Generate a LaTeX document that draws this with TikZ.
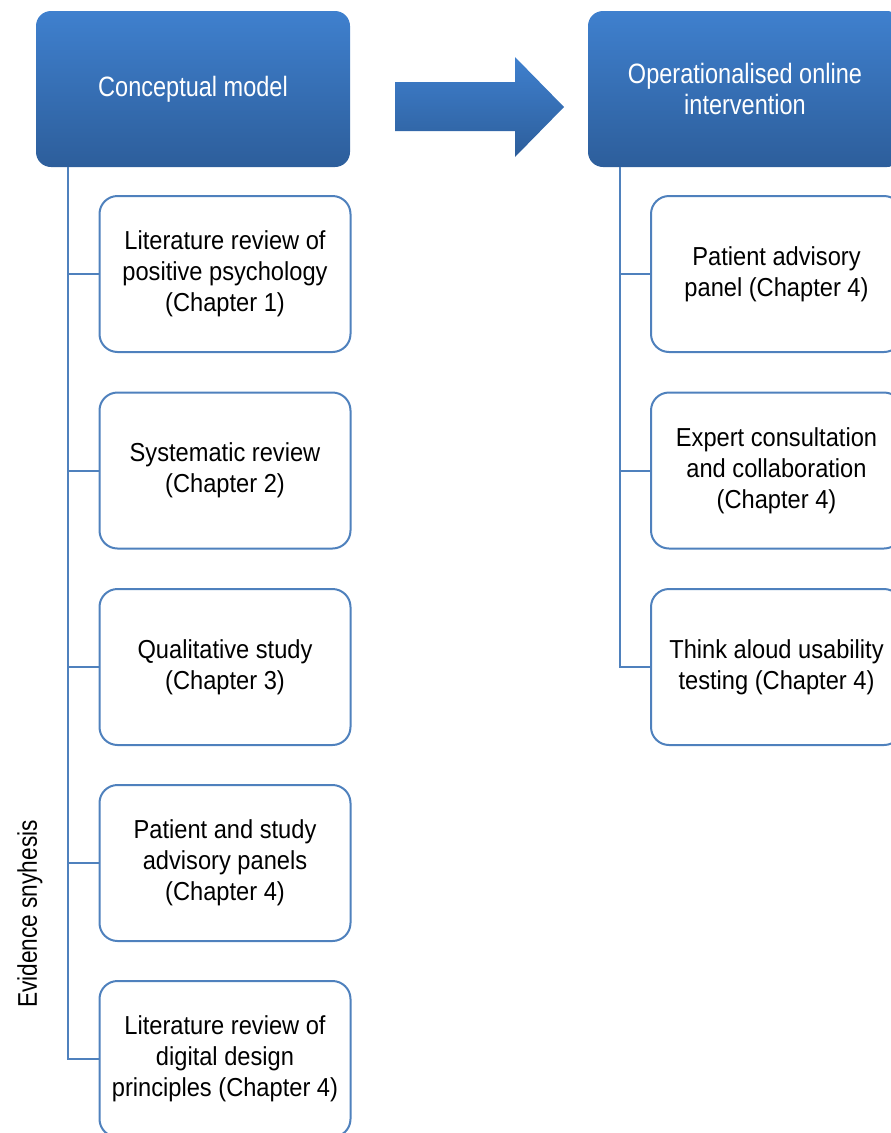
\documentclass[tikz,border=0pt]{standalone}
\usepackage{fontspec}
\setmainfont{Liberation Sans}
\newfontfamily\boxfont[FakeStretch=0.91]{Liberation Sans}
\newfontfamily\hdrfont[FakeStretch=0.84]{Liberation Sans}
\usetikzlibrary{calc}
\definecolor{officeblue}{HTML}{4F81BD}
\definecolor{hdrtop}{HTML}{3F80CE}
\definecolor{hdrbot}{HTML}{2D5E9B}
\tikzset{
  hdrbox/.style={rounded corners=15pt, top color=hdrtop, bottom color=hdrbot,
    minimum width=314pt, minimum height=156pt, inner sep=0pt, align=center,
    text=white, font=\hdrfont\fontsize{28}{31}\selectfont},
  itembox/.style={draw=officeblue, line width=2pt, rounded corners=18pt, fill=white,
    minimum width=251pt, minimum height=156pt, inner sep=0pt, align=center,
    text=black, font=\boxfont\fontsize{26}{31}\selectfont},
  conn/.style={draw=officeblue, line width=2pt},
  sidelabel/.style={rotate=90, font=\hdrfont\fontsize{27}{31}\selectfont, text=black},
}
\begin{document}
\begin{tikzpicture}[x=1pt, y=-1pt]
\useasboundingbox (0,0) rectangle (891,1133);
\clip (0,0) rectangle (891,1133);

% column headers
\node[hdrbox] (hL) at (193,89) {Conceptual model};
\node[hdrbox] (hR) at (745,89) {Operationalised online\\intervention};

% block arrow between the two stages
\shade[top color=hdrtop, bottom color=hdrbot]
  (395,82) -- (515,82) -- (515,57) -- (564,107) -- (515,157) -- (515,131) -- (395,131) -- cycle;

% evidence sources feeding the conceptual model
\node[itembox] (l1) at (225,274) {Literature review of\\positive psychology\\(Chapter 1)};
\node[itembox] (l2) at (225,470.5) {Systematic review\\(Chapter 2)};
\node[itembox] (l3) at (225,667) {Qualitative study\\(Chapter 3)};
\node[itembox] (l4) at (225,863) {Patient and study\\advisory panels\\(Chapter 4)};
\node[itembox] (l5) at (225,1059) {Literature review of\\digital design\\principles (Chapter 4)};

% steps behind the online intervention
\node[itembox] (r1) at (776.5,274) {Patient advisory\\panel (Chapter 4)};
\node[itembox] (r2) at (776.5,470.5) {Expert consultation\\and collaboration\\(Chapter 4)};
\node[itembox] (r3) at (776.5,667) {Think aloud usability\\testing (Chapter 4)};

% tree connectors
\foreach \c in {l1,l2,l3,l4,l5}
  \draw[conn] ($(hL.south west)+(32,0)$) |- (\c.west);
\foreach \c in {r1,r2,r3}
  \draw[conn] ($(hR.south west)+(32,0)$) |- (\c.west);

% side label
\node[sidelabel] (ev) at (30,914) {Evidence snyhesis};
\end{tikzpicture}
\end{document}
